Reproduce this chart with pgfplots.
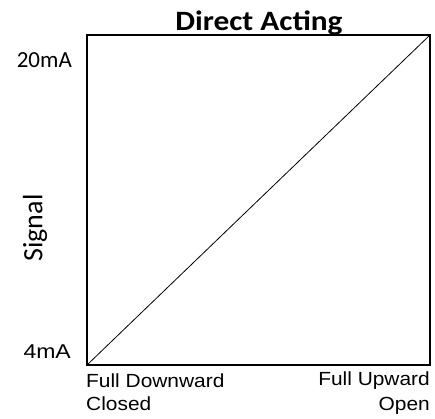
\documentclass[border=0pt]{standalone}
\usepackage{fontspec}
\setmainfont{Liberation Sans}
\newfontfamily\calfont{Carlito}
\usepackage{pgfplots}
\pgfplotsset{compat=1.18}
\begin{document}
\begin{tikzpicture}[x=1pt,y=1pt]
\begin{axis}[
  at={(0,0)}, anchor=south west,
  scale only axis, width=343pt, height=330pt,
  xmin=0, xmax=1, ymin=0, ymax=1,
  axis line style={line width=1.6pt},
  xtick=\empty, ytick=\empty,
  clip=false
]
\addplot[black, line width=0.8pt] coordinates {(0,0) (1,1)};
\end{axis}
\path[use as bounding box] (-87,-53) rectangle (348,365);
\node[anchor=base, inner sep=0] at (172,334) {\calfont\bfseries\fontsize{28}{32}\selectfont\scalebox{1.12}[1]{Direct Acting}};
\node[anchor=base east, inner sep=0] at (-15,297) {\calfont\fontsize{23}{28}\selectfont 20mA};
\node[anchor=base east, inner sep=0] at (-16,7) {\fontsize{20}{24}\selectfont\scalebox{1.15}[1]{4mA}};
\node[anchor=center, inner sep=0, rotate=90] at (-52,137) {\calfont\fontsize{28}{32}\selectfont Signal};
\node[anchor=base west, inner sep=0] at (-1,-22) {\fontsize{19}{23}\selectfont\scalebox{1.1}[1]{Full Downward}};
\node[anchor=base west, inner sep=0] at (-1,-45) {\fontsize{19}{23}\selectfont\scalebox{1.1}[1]{Closed}};
\node[anchor=base east, inner sep=0] at (343,-20) {\fontsize{19}{23}\selectfont\scalebox{1.1}[1]{Full Upward}};
\node[anchor=base east, inner sep=0] at (343,-45) {\fontsize{19}{23}\selectfont\scalebox{1.1}[1]{Open}};
\end{tikzpicture}
\end{document}
